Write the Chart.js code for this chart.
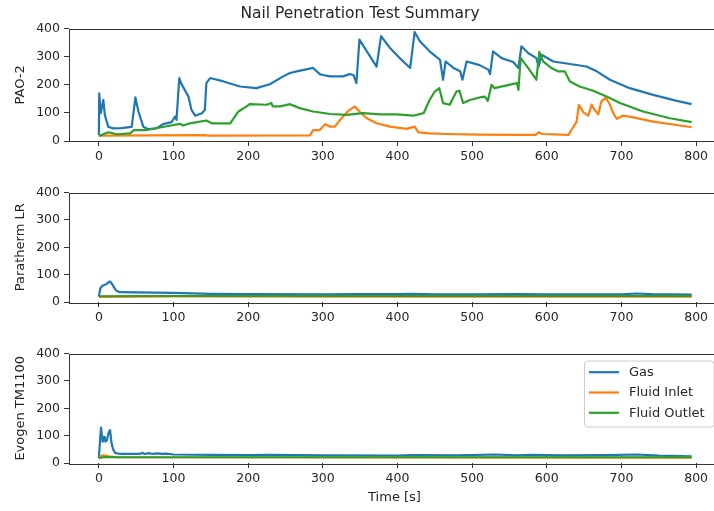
<!DOCTYPE html>
<html>
<head>
<meta charset="utf-8">
<title>Nail Penetration Test Summary</title>
<script src="https://cdn.jsdelivr.net/npm/chart.js@4.4.1/dist/chart.umd.min.js"></script>
<style>
  body { margin: 0; width: 714px; height: 511px; overflow: hidden; background: #fff; position: relative; }
  canvas { position: absolute; left: 0; }
</style>
</head>
<body>
<canvas id="pao2" width="722" height="171" style="top:0px"></canvas>
<canvas id="paratherm" width="722" height="151" style="top:181px"></canvas>
<canvas id="evogen" width="722" height="167" style="top:342px"></canvas>
<script>
// labels
const chartTitle = 'Nail Penetration Test Summary';
const seriesNames = ['Gas', 'Fluid Inlet', 'Fluid Outlet'];
const seriesColors = ['#1f77b4', '#ff7f0e', '#2ca02c'];
const xTicks = [0, 100, 200, 300, 400, 500, 600, 700, 800];
const yTicks = [0, 100, 200, 300, 400];

// PAO-2
const pao2GasTime = [0, 0.5, 2.5, 6, 8, 12.5, 19, 30, 44, 49, 53, 59.5, 66, 77, 86, 97.5, 102, 104, 107.7, 110, 115, 120, 124, 129, 138, 142, 144, 149, 167, 189, 211, 229, 247, 256, 265, 287, 296, 300, 310, 327, 336, 341, 345, 349, 359, 372, 378, 390, 403, 417, 423, 430, 443, 457, 461, 464.5, 475, 484, 487, 492.6, 510, 521.6, 524, 528, 539.5, 555, 562, 566, 575, 586, 589, 593, 608.6, 631, 653, 667, 684.6, 711, 742.6, 774, 794];
const pao2Gas = [21, 170, 99, 146, 93, 51, 45, 46, 50, 155, 105, 51, 42, 45, 60, 67, 87, 75, 224, 206, 182, 158, 111, 90, 99, 111, 206, 224, 212, 194, 188, 202, 230, 242, 248, 260, 238, 235, 230, 230, 238, 235, 206, 361, 319, 265, 373, 331, 295, 260, 388, 355, 319, 289, 218, 283, 260, 248, 218, 283, 270, 254, 238, 319, 295, 281, 260, 337, 313, 295, 265, 307, 283, 274, 265, 248, 218, 188, 164, 143, 131];
const pao2InletTime = [0, 142, 146, 283, 287, 296, 303, 310, 316, 325, 334, 343, 350, 359, 372, 390, 412, 423, 428, 443, 465, 510, 560, 585, 589, 594, 629, 633, 640, 643, 649, 655.5, 660, 664, 669, 673, 679, 684.6, 689, 693.6, 702, 711, 742.6, 774, 794];
const pao2Inlet = [19, 21, 19, 20, 39, 39, 60, 51, 51, 81, 107, 123, 102, 81, 63, 51, 43, 51, 31, 27, 25, 23, 22, 22, 31, 25, 22, 39, 69, 129, 102, 90, 129, 111, 95, 140, 155, 129, 99, 79, 90, 87, 69, 57, 49];
const pao2OutletTime = [0, 12.6, 24, 42, 47, 64, 100, 109, 113, 122, 144, 151, 176, 187, 198, 202, 225, 231, 233, 243, 256, 269, 287, 310, 332, 354, 377, 399, 421, 435, 443, 450, 456, 461, 470, 479, 483, 488, 497, 510, 517, 521, 526, 530, 560, 562, 565, 575, 586, 590, 595, 606, 615, 624, 631, 644, 662, 680, 698, 729, 765, 794];
const pao2Outlet = [18, 31, 24, 27, 39, 39, 57, 61, 55, 63, 73, 63, 63, 105, 123, 131, 129, 135, 123, 123, 131, 117, 105, 96, 93, 99, 95, 95, 90, 99, 146, 176, 188, 135, 129, 176, 179, 135, 146, 155, 158, 143, 200, 188, 206, 182, 295, 260, 218, 317, 283, 260, 248, 248, 212, 194, 179, 158, 135, 105, 81, 67];

// Paratherm LR
const paraGasTime = [0, 2, 4, 7, 10, 13, 15, 17, 20, 23, 28, 50, 100, 150, 200, 300, 350, 400, 420, 450, 500, 560, 600, 650, 700, 720, 740, 794];
const paraGas = [20, 50, 58, 62, 65, 72, 75, 68, 55, 42, 36, 35, 33, 30, 29, 28, 29, 29, 30, 28, 28, 29, 28, 28, 28, 31, 29, 27];
const paraInletTime = [0, 100, 400, 794];
const paraInlet = [19, 20, 20, 20];
const paraOutletTime = [0, 50, 400, 794];
const paraOutlet = [21, 22, 22, 22];

// Evogen TM1100
const evoGasTime = [0, 2, 3, 5, 6, 7, 8, 9, 11, 13, 15, 17, 19, 22, 30, 55, 58, 62, 67, 72, 78, 85, 90, 100, 150, 200, 230, 300, 400, 420, 480, 530, 560, 580, 620, 680, 720, 750, 794];
const evoGas = [18, 100, 129, 78, 85, 95, 82, 78, 85, 110, 120, 72, 50, 36, 33, 33, 37, 33, 36, 33, 35, 33, 34, 31, 30, 29, 30, 28, 27, 29, 28, 31, 28, 30, 28, 29, 31, 27, 24];
const evoInletTime = [0, 3, 6, 10, 15, 25, 794];
const evoInlet = [20, 25, 28, 26, 23, 21, 20];
const evoOutletTime = [0, 10, 30, 794];
const evoOutlet = [19, 22, 21, 21];

const FONT = 'DejaVu Sans';
const TEXT = '#262626';
const AXIS = '#333333';

const toPoints = (times, values) => times.map((t, i) => ({ x: t, y: values[i] }));

// draws the full box round the plot area, like matplotlib spines
const framePlugin = {
    id: 'frame',
    afterDatasetsDraw(chart) {
        const { ctx, chartArea: a } = chart;
        ctx.save();
        ctx.strokeStyle = AXIS;
        ctx.lineWidth = 1;
        ctx.strokeRect(Math.round(a.left) + 0.5, Math.round(a.top) + 0.5,
            Math.round(a.right - a.left), Math.round(a.bottom - a.top));
        ctx.restore();
    }
};

// legend box in the upper right of the last panel
const legendPlugin = {
    id: 'insideLegend',
    afterDraw(chart) {
        const { ctx, chartArea: a } = chart;
        const left = a.right - 136, top = a.top + 7, w = 129.5, h = 66;
        ctx.save();
        ctx.beginPath();
        ctx.roundRect(left + 0.5, top + 0.5, w, h, 3);
        ctx.fillStyle = 'rgba(255,255,255,0.8)';
        ctx.fill();
        ctx.strokeStyle = '#cccccc';
        ctx.lineWidth = 1;
        ctx.stroke();
        ctx.font = '13px "' + FONT + '"';
        ctx.textBaseline = 'middle';
        ctx.textAlign = 'left';
        chart.data.datasets.forEach((ds, i) => {
            const y = top + 11.7 + i * 20.3;
            ctx.beginPath();
            ctx.moveTo(left + 5, y);
            ctx.lineTo(left + 35, y);
            ctx.strokeStyle = ds.borderColor;
            ctx.lineWidth = 2.2;
            ctx.stroke();
            ctx.fillStyle = TEXT;
            ctx.fillText(ds.label, left + 45, y + 0.5);
        });
        ctx.restore();
    }
};

const makePanel = (id, yLabel, series, opts) => {
    const datasets = series.map((s, i) => ({
        label: seriesNames[i],
        data: toPoints(s[0], s[1]),
        borderColor: seriesColors[i],
        backgroundColor: seriesColors[i],
        borderWidth: 2.2,
        borderJoinStyle: 'round',
        pointRadius: 0,
        tension: 0,
        fill: false,
        order: 3 - i
    }));
    const plugins = [framePlugin];
    if (opts.legend) plugins.push(legendPlugin);
    return new Chart(document.getElementById(id), {
        type: 'line',
        data: { datasets },
        plugins,
        options: {
            responsive: false,
            animation: false,
            devicePixelRatio: 1,
            layout: { padding: { left: 0, right: 2, top: opts.padTop, bottom: 0 } },
            plugins: {
                legend: { display: false },
                tooltip: { enabled: false },
                title: {
                    display: !!opts.title,
                    text: opts.title || '',
                    color: TEXT,
                    font: { family: FONT, size: 15.5, weight: 'normal', lineHeight: 1.2 },
                    padding: { top: 5, bottom: 5 }
                }
            },
            scales: {
                x: {
                    type: 'linear',
                    min: -40,
                    max: 832,
                    afterBuildTicks: s => { s.ticks = xTicks.map(v => ({ value: v })); },
                    afterFit: s => { s.height = opts.xHeight; },
                    border: { display: false },
                    grid: { display: true, drawOnChartArea: false, drawTicks: true, tickLength: 5, color: AXIS },
                    ticks: { color: TEXT, padding: 3, maxRotation: 0, font: { family: FONT, size: 12.5 } },
                    title: {
                        display: !!opts.xTitle,
                        text: opts.xTitle || '',
                        color: TEXT,
                        font: { family: FONT, size: 13 },
                        padding: { top: 0, bottom: 4 }
                    }
                },
                y: {
                    type: 'linear',
                    min: 0,
                    max: 400,
                    afterBuildTicks: s => { s.ticks = yTicks.map(v => ({ value: v })); },
                    afterFit: s => { s.width = 69; },
                    border: { display: false },
                    grid: { display: true, drawOnChartArea: false, drawTicks: true, tickLength: 5, color: AXIS },
                    ticks: { color: TEXT, padding: 4, font: { family: FONT, size: 12.5 } },
                    title: {
                        display: true,
                        text: yLabel,
                        color: TEXT,
                        font: { family: FONT, size: 13 },
                        padding: { top: 13, bottom: 0 }
                    }
                }
            }
        }
    });
};

makePanel('pao2', 'PAO-2', [
    [pao2GasTime, pao2Gas],
    [pao2InletTime, pao2Inlet],
    [pao2OutletTime, pao2Outlet]
], { title: chartTitle, padTop: 0, xHeight: 30 });

makePanel('paratherm', 'Paratherm LR', [
    [paraGasTime, paraGas],
    [paraInletTime, paraInlet],
    [paraOutletTime, paraOutlet]
], { padTop: 10, xHeight: 30 });

makePanel('evogen', 'Evogen TM1100', [
    [evoGasTime, evoGas],
    [evoInletTime, evoInlet],
    [evoOutletTime, evoOutlet]
], { padTop: 10, xHeight: 46, xTitle: 'Time [s]', legend: true });
</script>
</body>
</html>
